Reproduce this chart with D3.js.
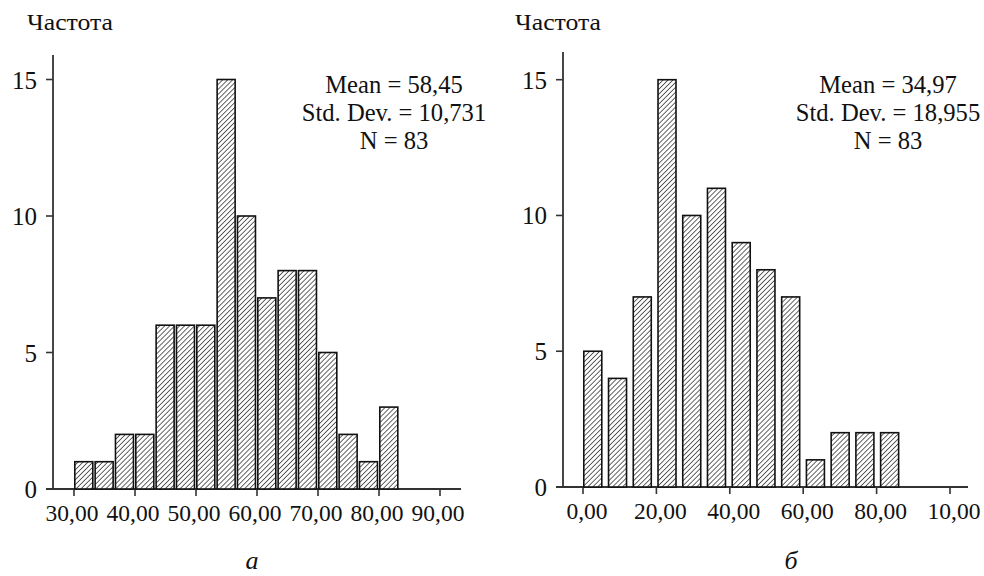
<!DOCTYPE html>
<html>
<head>
<meta charset="utf-8">
<script src="https://cdn.jsdelivr.net/npm/d3@7"></script>
<style>
  html, body { margin: 0; padding: 0; background: #fff; }
  svg text { font-family: "Liberation Serif", "Times New Roman", serif; fill: #111; }
</style>
</head>
<body>
<svg id="chart" width="984" height="576"></svg>
<script>
// Histogram a: bin counts, starting at 30 with bins of width 10/3
const countsA = [1, 1, 2, 2, 6, 6, 6, 15, 10, 7, 8, 8, 5, 2, 1, 3];
const binStartA = 30;
const binWidthA = 10 / 3;
const xTicksA = [30, 40, 50, 60, 70, 80, 90];
const xTickLabelsA = ["30,00", "40,00", "50,00", "60,00", "70,00", "80,00", "90,00"];
const statsA = ["Mean = 58,45", "Std. Dev. = 10,731", "N = 83"];

// Histogram б: bin counts, starting at 0
const countsB = [5, 4, 7, 15, 10, 11, 9, 8, 7, 1, 2, 2, 2];
const binStartB = 0;
const binWidthB = 6.74;
const xTicksB = [0, 20, 40, 60, 80, 100];
const xTickLabelsB = ["0,00", "20,00", "40,00", "60,00", "80,00", "10,00"];
const statsB = ["Mean = 34,97", "Std. Dev. = 18,955", "N = 83"];

const yTicks = [0, 5, 10, 15];
const yLabel = "Частота";

const svg = d3.select("#chart");

// diagonal hatch fill
const defs = svg.append("defs");
const pat = defs.append("pattern")
  .attr("id", "hatch")
  .attr("patternUnits", "userSpaceOnUse")
  .attr("width", 3.5).attr("height", 3.5)
  .attr("patternTransform", "rotate(45)");
pat.append("rect").attr("width", 3.5).attr("height", 3.5).attr("fill", "#fff");
pat.append("line")
  .attr("x1", 0).attr("y1", 0).attr("x2", 0).attr("y2", 3.5)
  .attr("stroke", "#1a1a1a").attr("stroke-width", 1.35);

function histogram(cfg) {
  const g = svg.append("g");
  const x = d3.scaleLinear().domain(cfg.xDomain).range(cfg.xRange);
  const y = d3.scaleLinear().domain([0, 15]).range(cfg.yRange);

  const axisX = cfg.axisX;     // pixel position of the vertical axis
  const base = y(0);

  // y axis line + ticks
  g.append("line")
    .attr("x1", axisX).attr("x2", axisX)
    .attr("y1", cfg.yTop).attr("y2", base)
    .attr("stroke", "#333").attr("stroke-width", 1.8);
  g.selectAll(".yt").data(yTicks).join("line")
    .attr("x1", axisX - 7).attr("x2", axisX)
    .attr("y1", d => y(d)).attr("y2", d => y(d))
    .attr("stroke", "#333").attr("stroke-width", 1.6);
  g.selectAll(".yl").data(yTicks).join("text")
    .attr("x", axisX - 16).attr("y", d => y(d) + 9)
    .attr("text-anchor", "end")
    .attr("font-size", 25)
    .text(d => d);

  // x axis line + ticks
  g.append("line")
    .attr("x1", axisX - 7).attr("x2", cfg.xEnd)
    .attr("y1", base).attr("y2", base)
    .attr("stroke", "#333").attr("stroke-width", 1.8);
  g.selectAll(".xt").data(cfg.xTicks).join("line")
    .attr("x1", d => x(d)).attr("x2", d => x(d))
    .attr("y1", base).attr("y2", base + 7)
    .attr("stroke", "#333").attr("stroke-width", 1.6);
  g.selectAll(".xl").data(cfg.xTicks).join("text")
    .attr("x", (d, i) => x(d) + cfg.labelShift)
    .attr("y", base + 32)
    .attr("text-anchor", "middle")
    .attr("font-size", 23.5)
    .text((d, i) => cfg.xTickLabels[i]);

  // bars
  const barW = 18;
  g.selectAll(".bar").data(cfg.counts).join("rect")
    .attr("x", (d, i) => x(cfg.binStart + i * cfg.binWidth) + 0.8)
    .attr("width", barW)
    .attr("y", d => y(d))
    .attr("height", d => base - y(d))
    .attr("fill", "url(#hatch)")
    .attr("stroke", "#111")
    .attr("stroke-width", 1.6);

  // axis caption
  g.append("text")
    .attr("x", cfg.captionX).attr("y", 30)
    .attr("font-size", 23)
    .attr("textLength", 86)
    .attr("lengthAdjust", "spacingAndGlyphs")
    .text(yLabel);

  // summary statistics
  g.selectAll(".st").data(cfg.stats).join("text")
    .attr("x", cfg.statsX)
    .attr("y", (d, i) => 93 + i * 28)
    .attr("text-anchor", "middle")
    .attr("font-size", 24.6)
    .text(d => d);

  // panel letter
  g.append("text")
    .attr("x", cfg.letterX).attr("y", 569)
    .attr("text-anchor", "middle")
    .attr("font-size", 26)
    .attr("font-style", "italic")
    .text(cfg.letter);
}

histogram({
  counts: countsA, binStart: binStartA, binWidth: binWidthA,
  xTicks: xTicksA, xTickLabels: xTickLabelsA, stats: statsA,
  xDomain: [30, 90], xRange: [74, 440], yRange: [489, 79.5],
  axisX: 53, yTop: 55, xEnd: 461, labelShift: -2,
  captionX: 27, statsX: 394, letterX: 252, letter: "а"
});

histogram({
  counts: countsB, binStart: binStartB, binWidth: binWidthB,
  xTicks: xTicksB, xTickLabels: xTickLabelsB, stats: statsB,
  xDomain: [0, 100], xRange: [583, 950], yRange: [487, 79.7],
  axisX: 563, yTop: 52, xEnd: 968, labelShift: 4,
  captionX: 515, statsX: 888, letterX: 791, letter: "б"
});
</script>
</body>
</html>
